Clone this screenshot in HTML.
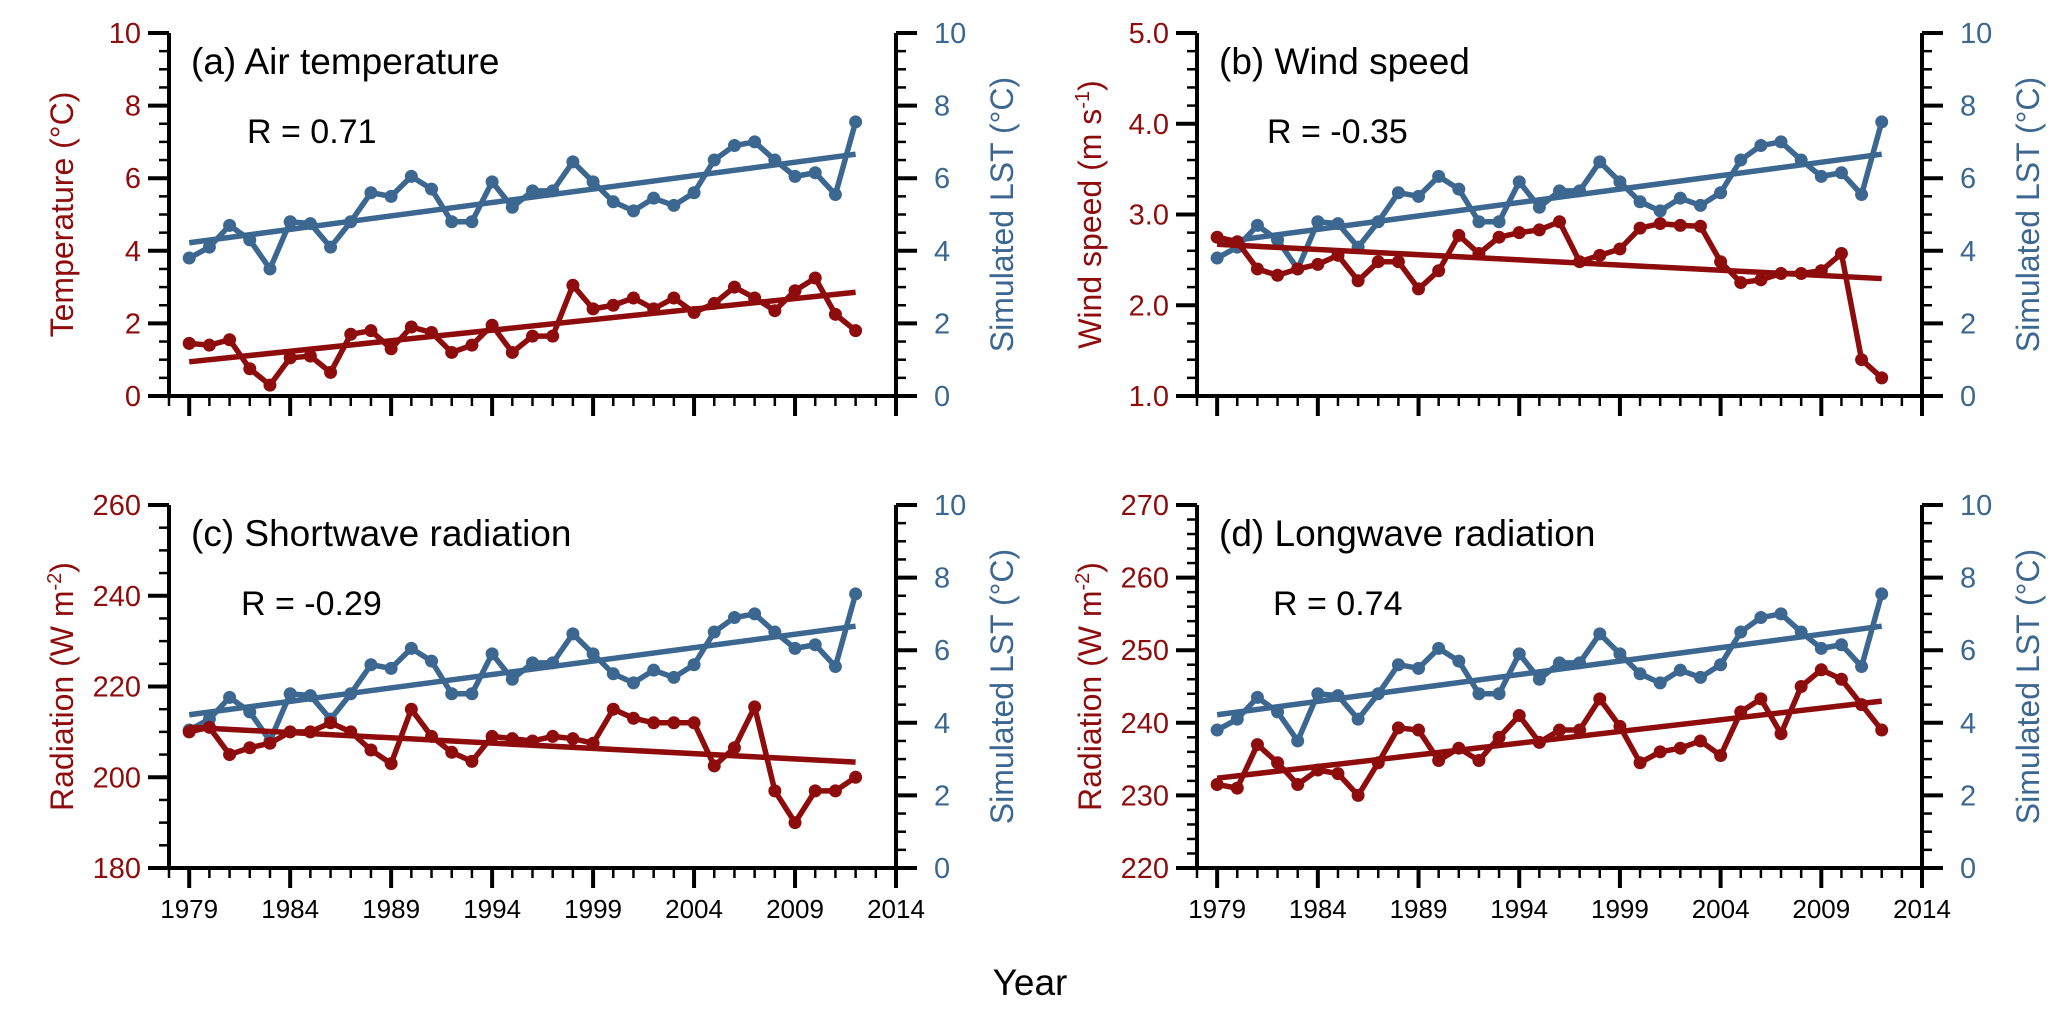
<!DOCTYPE html>
<html><head><meta charset="utf-8">
<style>
html,body{margin:0;padding:0;background:#fff;}
svg{display:block;font-family:"Liberation Sans",Arial,sans-serif;}
</style></head>
<body>
<svg id="fig" width="2067" height="1029" viewBox="0 0 2067 1029" xmlns="http://www.w3.org/2000/svg">
<text x="1030" y="995" font-size="37" text-anchor="middle">Year</text>
</svg>
<script>
const years = [1979,1980,1981,1982,1983,1984,1985,1986,1987,1988,1989,1990,1991,1992,1993,1994,1995,1996,1997,1998,1999,2000,2001,2002,2003,2004,2005,2006,2007,2008,2009,2010,2011,2012];
const lst = [3.8,4.1,4.7,4.3,3.5,4.8,4.75,4.1,4.8,5.6,5.5,6.05,5.7,4.8,4.8,5.9,5.2,5.65,5.65,6.45,5.9,5.35,5.1,5.45,5.25,5.6,6.5,6.9,7.0,6.5,6.05,6.15,5.55,7.55];
const airTemp = [1.45,1.4,1.55,0.75,0.3,1.05,1.1,0.65,1.7,1.8,1.3,1.9,1.75,1.2,1.4,1.95,1.2,1.65,1.65,3.05,2.4,2.5,2.7,2.4,2.7,2.3,2.55,3.0,2.7,2.35,2.9,3.25,2.25,1.8];
const windSpeed = [2.75,2.7,2.4,2.33,2.4,2.45,2.55,2.27,2.48,2.48,2.18,2.38,2.77,2.57,2.75,2.8,2.83,2.92,2.48,2.55,2.62,2.85,2.9,2.88,2.87,2.48,2.25,2.28,2.35,2.35,2.38,2.57,1.4,1.2];
const shortwave = [210,211,205,206.5,207.5,210,210,212,210,206,203,215,209,205.5,203.5,209,208.5,208,209,208.5,207.5,215,213,212,212,212,202.5,206.5,215.5,197,190,197,197,200];
const longwave = [231.5,231,237,234.5,231.5,233.5,233,230,234.5,239.3,239,234.8,236.5,234.8,238,241,237.3,239,239,243.3,239.5,234.5,236,236.5,237.5,235.5,241.5,243.3,238.5,245,247.3,246,242.5,239];
const xTicks = [1979,1984,1989,1994,1999,2004,2009,2014];
const lstTicks = [0,2,4,6,8,10];
const airTicks = [0,2,4,6,8,10];
const windTicks = [1.0,2.0,3.0,4.0,5.0];
const swTicks = [180,200,220,240,260];
const lwTicks = [220,230,240,250,260,270];
const rValues = ["0.71","-0.35","-0.29","0.74"];

const RED="#8e0c0c", BLUE="#3b6790";
const svg=document.getElementById('fig');
const NS="http://www.w3.org/2000/svg";
function el(tag,attrs,parent){const e=document.createElementNS(NS,tag);for(const k in attrs)e.setAttribute(k,attrs[k]);(parent||svg).appendChild(e);return e;}
function fit(y){const n=years.length;let mx=0,my=0;for(let i=0;i<n;i++){mx+=years[i];my+=y[i];}mx/=n;my/=n;let sxy=0,sxx=0;for(let i=0;i<n;i++){sxy+=(years[i]-mx)*(y[i]-my);sxx+=(years[i]-mx)**2;}const b=sxy/sxx;return x=>my+b*(x-mx);}

function panel(o){
  const g=el('g',{});
  
  
  const L=o.x0,R=o.x1,T=o.y0,B=o.y1;
  const xs=v=>L+(v-1978)/(2014-1978)*(R-L);
  const yl=v=>B-(v-o.lmin)/(o.lmax-o.lmin)*(B-T);
  const yr=v=>B-(v-0)/(10-0)*(B-T);
  const ax=el('path',{d:`M${L},${T}V${B}H${R}V${T}`,fill:'none',stroke:'#000','stroke-width':4},g);
  
  
  for(let yv=1978;yv<=2014;yv++){
    const major=(yv-1979)%5===0;
    el('line',{x1:xs(yv),x2:xs(yv),y1:B,y2:B+(major?20:10),stroke:'#000','stroke-width':major?4:2.5},g);
  }
  if(o.xlabels){for(const t of xTicks){const tx=el('text',{x:xs(t),y:B+50,'font-size':26,'text-anchor':'middle'},g);tx.textContent=t;
    
    }}
  for(let v=o.lmin;v<=o.lmax+1e-9;v+=o.lminor){
    const major=o.lticks.some(t=>Math.abs(t-v)<1e-6);
    el('line',{x1:L-(major?21:10),x2:L,y1:yl(v),y2:yl(v),stroke:'#000','stroke-width':major?4:2.5},g);
  }
  for(const t of o.lticks){const tx=el('text',{x:L-28,y:yl(t)+10,'font-size':29,'text-anchor':'end',fill:RED},g);tx.textContent=o.lfmt(t);
    
    }
  for(let v=0;v<=10+1e-9;v+=0.5){
    const major=lstTicks.some(t=>Math.abs(t-v)<1e-6);
    el('line',{x1:R,x2:R+(major?21:10),y1:yr(v),y2:yr(v),stroke:'#000','stroke-width':major?4:2.5},g);
  }
  for(const t of lstTicks){const tx=el('text',{x:R+38,y:yr(t)+10,'font-size':29,'text-anchor':'start',fill:BLUE},g);tx.textContent=t;
    
    }
  const cy=(T+B)/2;
  const lt=el('text',{x:0,y:0,'font-size':32,'text-anchor':'middle',fill:RED,transform:`translate(${L-96},${cy}) rotate(-90)`},g);
  lt.innerHTML=o.ltitle;
  
  
  const rt=el('text',{x:0,y:0,'font-size':32,'text-anchor':'middle',fill:BLUE,transform:`translate(${R+117},${cy}) rotate(-90)`},g);
  rt.textContent='Simulated LST (°C)';
  
  
  const ti=el('text',{x:L+22,y:T+41,'font-size':37},g);ti.textContent=o.title;
  
  
  const rv=el('text',{x:L+o.rdx,y:T+110,'font-size':34},g);rv.textContent='R = '+o.r;
  
  
  function series(vals,yf,col,nm){
    const f=fit(vals);
    const tl=el('line',{x1:xs(1979),y1:yf(f(1979)),x2:xs(2012),y2:yf(f(2012)),stroke:col,'stroke-width':5.5},g);
    
    
    const pl=el('polyline',{points:vals.map((v,i)=>xs(years[i])+','+yf(v)).join(' '),fill:'none',stroke:col,'stroke-width':5.5,'stroke-linejoin':'round'},g);
    
    
    vals.forEach((v,i)=>{const c=el('circle',{cx:xs(years[i]),cy:yf(v),r:6.5,fill:col},g);
      
      });
  }
  series(lst,yr,BLUE,'lst');
  series(o.data,yl,RED,o.sname);
}
const fmtInt=t=>String(t), fmt1=t=>t.toFixed(1);
panel({name:'panel-a-air-temperature',x0:169,x1:896,y0:33,y1:396,lmin:0,lmax:10,lminor:0.5,lticks:airTicks,lfmt:fmtInt,ltitle:'Temperature (°C)',title:'(a) Air temperature',r:rValues[0],rdx:78,data:airTemp,sname:'air-temperature',xlabels:false});
panel({name:'panel-b-wind-speed',x0:1197,x1:1922,y0:33,y1:396,lmin:1,lmax:5,lminor:0.2,lticks:windTicks,lfmt:fmt1,ltitle:'Wind speed (m s<tspan dy="-12" font-size="20">-1</tspan><tspan dy="12">)</tspan>',title:'(b) Wind speed',r:rValues[1],rdx:70,data:windSpeed,sname:'wind-speed',xlabels:false});
panel({name:'panel-c-shortwave',x0:169,x1:896,y0:505,y1:868,lmin:180,lmax:260,lminor:5,lticks:swTicks,lfmt:fmtInt,ltitle:'Radiation (W m<tspan dy="-12" font-size="20">-2</tspan><tspan dy="12">)</tspan>',title:'(c) Shortwave radiation',r:rValues[2],rdx:72,data:shortwave,sname:'shortwave',xlabels:true});
panel({name:'panel-d-longwave',x0:1197,x1:1922,y0:505,y1:868,lmin:220,lmax:270,lminor:2,lticks:lwTicks,lfmt:fmtInt,ltitle:'Radiation (W m<tspan dy="-12" font-size="20">-2</tspan><tspan dy="12">)</tspan>',title:'(d) Longwave radiation',r:rValues[3],rdx:76,data:longwave,sname:'longwave',xlabels:true});
</script>
</body></html>
